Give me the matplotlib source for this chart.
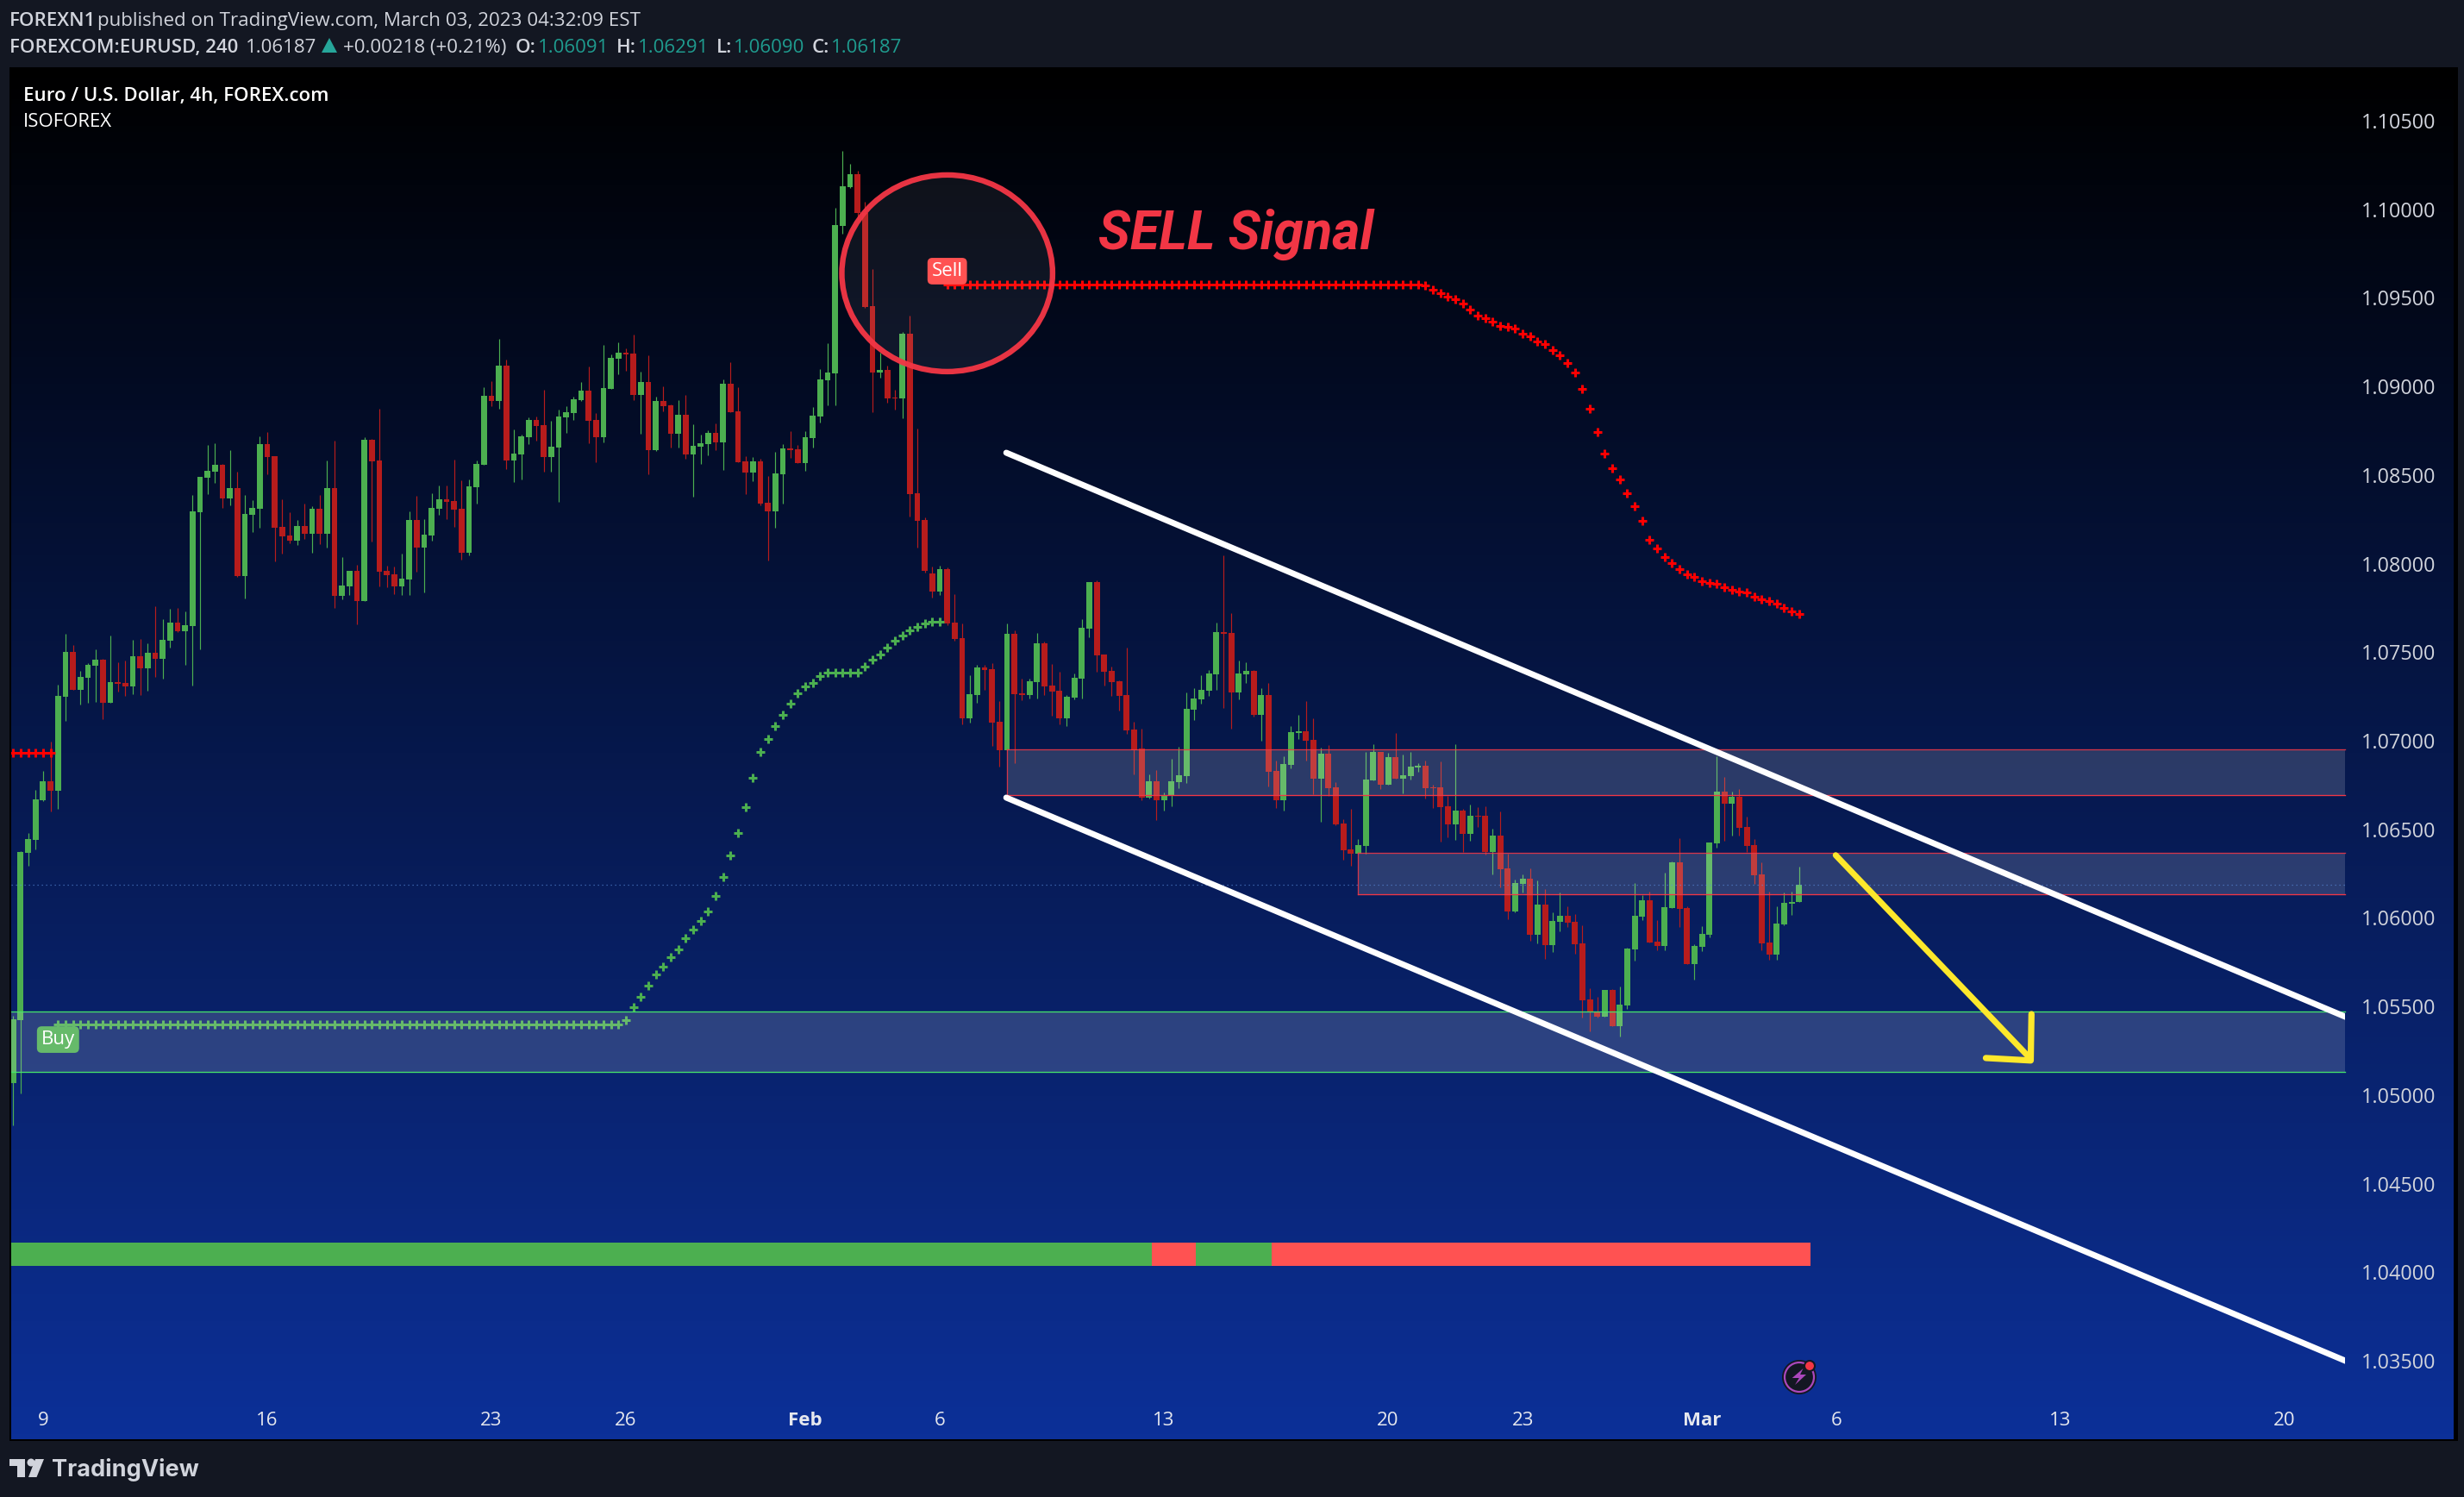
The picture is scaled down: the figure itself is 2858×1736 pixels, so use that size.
import numpy as np
import matplotlib
matplotlib.use("Agg")
import matplotlib.pyplot as plt
from matplotlib.colors import LinearSegmentedColormap
from matplotlib.patches import Rectangle, Ellipse, Circle, Polygon

# Candles, 4h bars
opens = [
    1.05067,1.05424,1.06367,1.0644,1.06664,1.06771,1.06718,1.07249,1.07502,1.07288,
    1.07356,1.07424,1.07458,1.07215,1.07332,1.07327,1.07307,1.07478,1.0741,1.07497,
    1.07463,1.07565,1.07667,1.07619,1.07648,1.08291,1.08485,1.08519,1.08558,1.08368,
    1.08427,1.0793,1.08276,1.0831,1.08675,1.08607,1.08208,1.08159,1.0813,1.08213,
    1.08169,1.0831,1.08169,1.08427,1.07818,1.07872,1.07959,1.07789,1.087,1.08583,
    1.07959,1.0794,1.07872,1.07911,1.08247,1.08091,1.08159,1.0831,1.08364,1.08354,
    1.0831,1.08062,1.08432,1.08558,1.08948,1.08919,1.09118,1.08582,1.08616,1.08714,
    1.08811,1.08782,1.08602,1.08655,1.08826,1.0885,1.08923,1.08977,1.08811,1.08714,
    1.08986,1.09157,1.09191,1.09186,1.08952,1.09025,1.08641,1.08918,1.08894,1.08733,
    1.0884,1.08616,1.0866,1.08675,1.08738,1.08685,1.09015,1.0886,1.08577,1.08514,
    1.08577,1.08344,1.08295,1.08504,1.0865,1.08645,1.08568,1.08709,1.08831,1.09035,
    1.09074,1.09907,1.10126,1.10199,1.0998,1.09454,1.09079,1.09094,1.08938,1.08933,
    1.09298,1.08397,1.08246,1.07944,1.07842,1.07969,1.07667,1.07579,1.07126,1.07258,
    1.07414,1.07404,1.07107,1.06946,1.07604,1.07268,1.07258,1.07331,1.0755,1.07311,
    1.07282,1.07126,1.07243,1.0735,1.07633,1.07896,1.07487,1.07394,1.07336,1.07258,
    1.07063,1.06956,1.06679,1.06771,1.06664,1.0669,1.06766,1.068,1.07175,1.07233,
    1.07282,1.07375,1.07613,1.07608,1.07272,1.07375,1.07394,1.07146,1.07258,1.0683,
    1.06664,1.06863,1.07043,1.07053,1.07005,1.06786,1.06927,1.06737,1.06532,1.06386,
    1.06362,1.06406,1.06776,1.06936,1.06751,1.06907,1.06786,1.068,1.06849,1.06859,
    1.06737,1.06737,1.0663,1.06528,1.06606,1.06475,1.06577,1.06577,1.06373,1.06465,
    1.0628,1.06037,1.06192,1.06222,1.05905,1.06075,1.05847,1.05978,1.06012,1.05978,
    1.05856,1.0554,1.0547,1.05443,1.05594,1.05389,1.05506,1.05822,1.06007,1.061,
    1.05866,1.05842,1.06056,1.06314,1.06056,1.05739,1.05837,1.05905,1.06421,1.06713,
    1.06645,1.06684,1.06514,1.06411,1.06246,1.05861,1.05793,1.05963,1.0608,1.06091,
]
highs = [
    1.05445,1.06375,1.06479,1.06723,1.0683,1.06995,1.07317,1.07604,1.07541,1.07395,
    1.07439,1.07516,1.07463,1.07594,1.07444,1.07453,1.0757,1.07575,1.07551,1.0776,
    1.07687,1.07745,1.0775,1.0773,1.08388,1.0849,1.0867,1.0868,1.08563,1.08641,
    1.08519,1.08388,1.08359,1.08719,1.08743,1.08607,1.08364,1.0829,1.08247,1.08339,
    1.08325,1.08388,1.08583,1.08695,1.08037,1.07959,1.07994,1.08714,1.08704,1.08875,
    1.07989,1.07984,1.08057,1.08296,1.08383,1.08252,1.08398,1.08442,1.08442,1.08588,
    1.08471,1.08476,1.08583,1.08996,1.0903,1.09269,1.09152,1.08758,1.08728,1.08826,
    1.08831,1.08981,1.08806,1.0887,1.0889,1.08943,1.09025,1.09113,1.0885,1.09235,
    1.09181,1.0925,1.09215,1.09293,1.09084,1.09176,1.08943,1.09001,1.08899,1.08923,
    1.08952,1.08787,1.08728,1.08753,1.08792,1.0904,1.09137,1.08996,1.08606,1.08602,
    1.08592,1.08495,1.08631,1.08675,1.08748,1.0867,1.08748,1.08884,1.09098,1.09244,
    1.10008,1.1033,1.10257,1.10218,1.10043,1.09663,1.0919,1.09118,1.08982,1.09307,
    1.094,1.08762,1.08262,1.07982,1.07988,1.07978,1.07827,1.07662,1.0737,1.07428,
    1.07428,1.07438,1.07224,1.07662,1.07623,1.0735,1.0735,1.07608,1.0756,1.07433,
    1.07389,1.07258,1.07379,1.07686,1.07896,1.07905,1.07487,1.07418,1.07341,1.07526,
    1.07107,1.07068,1.0681,1.06834,1.06708,1.06898,1.06966,1.07272,1.07297,1.0737,
    1.07399,1.07667,1.08047,1.0772,1.07452,1.07443,1.07399,1.07297,1.07326,1.06888,
    1.06912,1.07083,1.07146,1.07224,1.07126,1.06961,1.06976,1.06766,1.06557,1.06615,
    1.06445,1.06936,1.0698,1.06936,1.06932,1.07044,1.06922,1.06937,1.06873,1.06888,
    1.0675,1.06883,1.06689,1.06981,1.06616,1.0664,1.06626,1.06631,1.06504,1.06601,
    1.06363,1.06217,1.06246,1.0628,1.06212,1.06163,1.06032,1.06144,1.06066,1.06022,
    1.05959,1.05603,1.05555,1.05594,1.05599,1.05613,1.05832,1.06197,1.06129,1.06149,
    1.05988,1.06256,1.06319,1.06451,1.06066,1.05852,1.05954,1.06426,1.06913,1.06796,
    1.06713,1.06728,1.06572,1.06445,1.06314,1.06149,1.06066,1.06144,1.06149,1.06291,
]
lows = [
    1.04829,1.05011,1.06296,1.06387,1.06659,1.06603,1.06617,1.07112,1.07288,1.07205,
    1.07215,1.0722,1.07122,1.07215,1.07278,1.07254,1.07264,1.07259,1.07283,1.07361,
    1.07351,1.07526,1.07614,1.07429,1.07312,1.07516,1.08393,1.08456,1.08315,1.08329,
    1.07925,1.07804,1.08179,1.08203,1.08505,1.08013,1.08057,1.08115,1.08105,1.0814,
    1.08062,1.08111,1.08091,1.0775,1.07799,1.07823,1.07658,1.07789,1.08125,1.07872,
    1.07867,1.07828,1.07823,1.07823,1.07955,1.07838,1.0813,1.08276,1.08252,1.08208,
    1.08023,1.08047,1.08339,1.08558,1.0889,1.08874,1.08534,1.08461,1.08475,1.08675,
    1.08694,1.08519,1.08519,1.08349,1.08738,1.08811,1.08918,1.08679,1.08572,1.08685,
    1.08986,1.09069,1.09089,1.08923,1.08733,1.08504,1.08636,1.0886,1.08655,1.08655,
    1.08592,1.08378,1.08563,1.08611,1.08641,1.08529,1.08855,1.08572,1.08393,1.08465,
    1.08329,1.08017,1.08203,1.08339,1.08597,1.08568,1.08524,1.08655,1.08797,1.08894,
    1.08894,1.09863,1.10121,1.09941,1.09444,1.08855,1.0905,1.08909,1.0887,1.08821,
    1.08266,1.08092,1.0795,1.0781,1.07823,1.07652,1.07565,1.07092,1.07102,1.07214,
    1.07287,1.06971,1.06854,1.06946,1.06873,1.07229,1.07238,1.07238,1.07258,1.07141,
    1.07092,1.07083,1.07233,1.07238,1.07584,1.07389,1.07311,1.07253,1.0717,1.07039,
    1.06812,1.06664,1.06674,1.06552,1.06606,1.0663,1.06732,1.06761,1.07117,1.07209,
    1.07253,1.07287,1.07185,1.07068,1.07233,1.07326,1.07136,1.07,1.06742,1.0662,
    1.06606,1.06844,1.0701,1.06888,1.06698,1.06542,1.06688,1.06523,1.06328,1.06294,
    1.06362,1.06362,1.06776,1.06727,1.06751,1.06786,1.06703,1.06781,1.06825,1.06674,
    1.0662,1.0643,1.06455,1.06441,1.06372,1.06436,1.06514,1.06358,1.06246,1.06173,
    1.05993,1.06032,1.06144,1.05871,1.05856,1.05769,1.05808,1.05925,1.05949,1.05798,
    1.05438,1.0536,1.05438,1.05443,1.05389,1.05331,1.05487,1.05759,1.05988,1.05861,
    1.05817,1.05817,1.06056,1.05949,1.05739,1.05652,1.05813,1.0589,1.06397,1.06436,
    1.06465,1.06465,1.06372,1.06192,1.05817,1.05764,1.05764,1.05958,1.06017,1.0609,
]
closes = [
    1.05428,1.06372,1.06445,1.06669,1.06771,1.06718,1.07254,1.07502,1.07288,1.07361,
    1.07429,1.07458,1.07215,1.07332,1.07322,1.07307,1.07478,1.0741,1.07497,1.07463,
    1.0757,1.07667,1.07619,1.07653,1.08296,1.0849,1.08524,1.08558,1.08368,1.08427,
    1.0793,1.08281,1.08315,1.08675,1.08602,1.08203,1.08154,1.0813,1.08213,1.08169,
    1.0831,1.08169,1.08427,1.07818,1.07877,1.07959,1.07789,1.087,1.08578,1.07955,
    1.07935,1.07872,1.07916,1.08247,1.08091,1.08164,1.08315,1.08364,1.08349,1.08305,
    1.08062,1.08437,1.08563,1.08948,1.08919,1.09118,1.08582,1.08621,1.08719,1.08811,
    1.08777,1.08602,1.0866,1.08831,1.08855,1.08928,1.08977,1.08806,1.08714,1.08991,
    1.09162,1.09191,1.09181,1.08952,1.09025,1.08641,1.08918,1.08889,1.08733,1.0884,
    1.08616,1.08665,1.08679,1.08738,1.08685,1.09015,1.08855,1.08572,1.08514,1.08577,
    1.08339,1.08295,1.08509,1.0865,1.0864,1.08568,1.08714,1.08836,1.0904,1.09079,
    1.09911,1.1013,1.10199,1.0998,1.09449,1.09079,1.09094,1.08933,1.08933,1.09298,
    1.08393,1.08242,1.07959,1.07842,1.07969,1.07662,1.07574,1.07126,1.07263,1.07414,
    1.07399,1.07102,1.06946,1.07604,1.07263,1.07258,1.07336,1.0755,1.07307,1.07277,
    1.07126,1.07248,1.07355,1.07638,1.07896,1.07482,1.07389,1.07331,1.07253,1.07058,
    1.06946,1.06679,1.06771,1.06664,1.0669,1.06771,1.06805,1.0718,1.07238,1.07287,
    1.0738,1.07613,1.07604,1.07272,1.0738,1.07394,1.07146,1.07258,1.06825,1.06664,
    1.06868,1.07048,1.07053,1.07,1.06786,1.06927,1.06732,1.06528,1.06382,1.06362,
    1.06411,1.06781,1.06936,1.06751,1.06907,1.06786,1.06805,1.06854,1.06859,1.06732,
    1.06732,1.06625,1.06528,1.06606,1.06475,1.06577,1.06572,1.06373,1.06465,1.06275,
    1.06037,1.06197,1.06222,1.05905,1.06075,1.05847,1.05983,1.06012,1.05973,1.05852,
    1.05535,1.0547,1.05443,1.05594,1.05389,1.05511,1.05827,1.06012,1.061,1.05861,
    1.05842,1.06061,1.06314,1.06051,1.05739,1.05842,1.0591,1.06426,1.06713,1.06645,
    1.06684,1.06509,1.06407,1.06241,1.05856,1.05793,1.05968,1.06085,1.0609,1.06187,
]

# Indicator dots (bar index starts and values)
sell_old_bars = [0, 1, 2, 3, 4, 5]
sell_old_vals = [1.0693] * 6
buy_start = 6
buy_vals = [1.05397] * 76 + [
    1.05425,1.05494,1.05556,1.0562,1.05683,1.05727,1.05776,1.05824,1.05883,1.05932,
    1.05985,1.06034,1.06126,1.06233,1.06354,1.06481,1.06627,1.06793,1.06939,1.07011,
    1.07085,1.07148,1.07207,1.07269,1.07309,1.07328,1.07363,1.07387,1.07387,1.07387,
    1.07387,1.07387,1.0742,1.0746,1.07489,1.07527,1.07563,1.07596,1.07625,1.07645,
    1.0766,1.0767,1.0767,
]
sell_start = 125
sell_vals = [1.09574] * 64 + [
    1.09569,1.09548,1.09529,1.09509,1.09491,1.09469,1.09432,1.09402,1.09383,1.09365,
    1.09343,1.09336,1.09326,1.09299,1.09283,1.09256,1.09237,1.09207,1.09175,1.09132,
    1.09081,1.08984,1.08872,1.08745,1.08619,1.08537,1.08473,1.08396,1.08322,1.0824,
    1.08133,1.08084,1.08036,1.08002,1.0797,1.07942,1.07923,1.07901,1.07893,1.07885,
    1.07865,1.0785,1.07841,1.07838,1.07811,1.07797,1.07787,1.07774,1.07749,1.07729,
    1.07714,
]

# Zones: first bar, top, bottom
zones_red = [(133, 1.06949, 1.06691), (180, 1.06365, 1.06133)]
zone_green = (-0.3, 1.05472, 1.05131)
zone_end = 312.1

# Channel lines and arrow
channel_top = ([132.9, 312.6], [1.08626, 1.05433])
channel_bottom = ([132.9, 312.6], [1.06679, 1.03491])
arrow_shaft = ([243.9, 270.0], [1.06354, 1.05204])
arrow_head = ([264.0, 270.0, 270.1], [1.05209, 1.05195, 1.05457])

# Trend strip
strip_edges = [-0.3, 152.4, 158.3, 168.4, 240.5]
strip_colors = ["#4caf50", "#ff5252", "#4caf50", "#ff5252"]
strip_top = 1.04167
strip_bottom = 1.04035

price_ticks = [1.035, 1.04, 1.045, 1.05, 1.055, 1.06, 1.065, 1.07, 1.075, 1.08, 1.085, 1.09, 1.095, 1.10, 1.105]
date_pos = [4, 34, 64, 82, 106, 124, 154, 184, 202, 226, 244, 274, 304]
date_labels = ["9", "16", "23", "26", "Feb", "6", "13", "20", "23", "Mar", "6", "13", "20"]
last_price = 1.06187

W, H = 2858, 1736
PAGE = "#131722"
TXT = "#d1d4dc"
TEAL = "#1f9c8f"
FONT = "Open Sans"

plt.rcParams["font.family"] = [FONT, "DejaVu Sans"]

fig = plt.figure(figsize=(W / 100, H / 100), dpi=100, facecolor=PAGE)

# px helpers for the chart pane
L, R, T, B = 13, 2846, 78, 1669
ax = fig.add_axes([L / W, 1 - B / H, (R - L) / W, (B - T) / H])
ax.set_zorder(1)
xlim = (-0.265, 326.6)
ylim = (1.03057, 1.10802)

# Background gradient
grad = LinearSegmentedColormap.from_list("bg", ["#000000", "#0c3098"])
ax.imshow(np.linspace(0, 1, 512).reshape(-1, 1), cmap=grad, aspect="auto",
          extent=[xlim[0], xlim[1], ylim[0], ylim[1]], zorder=0)

# Candles
bars = np.arange(len(opens))
o = np.array(opens)
h = np.array(highs)
l = np.array(lows)
c = np.array(closes)
colors = np.where(c >= o, "#4caf50", "#b71c1c")
ax.vlines(bars, l, h, colors=colors, linewidth=0.85, zorder=2)
ax.bar(bars, np.maximum(np.abs(c - o), 0.00005), bottom=np.minimum(o, c), width=0.8,
       color=colors, linewidth=0, zorder=2.1)

# Dots
mark = dict(linestyle="none", marker="+", markersize=7.2, markeredgewidth=2.2, zorder=3)
ax.plot(sell_old_bars, sell_old_vals, color="#ff0000", **mark)
ax.plot(np.arange(buy_start, buy_start + len(buy_vals)), buy_vals, color="#4caf50", **mark)
ax.plot(np.arange(sell_start, sell_start + len(sell_vals)), sell_vals, color="#ff0000", **mark)

# Buy / Sell labels
ax.text(6, 1.05313, "Buy", color="white", fontsize=16, ha="center", va="center", zorder=3.2,
        bbox=dict(boxstyle="round,pad=0.22,rounding_size=0.25", fc="#4caf50", ec="none"))
ax.text(125, 1.09651, "Sell", color="white", fontsize=16, ha="center", va="center", zorder=7,
        bbox=dict(boxstyle="round,pad=0.22,rounding_size=0.25", fc="#ff5252", ec="none"))

# Zones sit above candles and wash them out a bit, right side runs off the pane
for start, top, bot in zones_red:
    ax.add_patch(Rectangle((start, bot), zone_end - start, top - bot, fc=(1, 1, 1, 0.15), ec="none", zorder=4))
    ax.plot([start, zone_end], [top, top], color="#f23645", lw=0.95, alpha=0.85, zorder=4.1)
    ax.plot([start, zone_end], [bot, bot], color="#f23645", lw=0.95, zorder=4.1)
    ax.plot([start, start], [bot, top], color="#f23645", lw=0.95, alpha=0.85, zorder=4.1)
start, top, bot = zone_green
ax.add_patch(Rectangle((start, bot), zone_end - start, top - bot, fc=(1, 1, 1, 0.15), ec="none", zorder=4))
ax.plot([start, zone_end], [top, top], color="#45e36b", lw=0.95, zorder=4.1)
ax.plot([start, zone_end], [bot, bot], color="#45e36b", lw=0.95, zorder=4.1)

# Last price line
ax.plot([xlim[0], zone_end], [last_price, last_price], color="#5b8fe0", lw=0.9,
        linestyle=(0, (1, 3)), alpha=0.75, zorder=4.5)

# Channel, cut flat where the pane stops
for xs, ys in (channel_top, channel_bottom):
    ln, = ax.plot(xs, ys, color="white", lw=5.0, solid_capstyle="round", zorder=5)
    ln.set_clip_path(Rectangle((xlim[0], ylim[0]), zone_end - xlim[0], ylim[1] - ylim[0],
                               transform=ax.transData))

# Arrow
ax.plot(*arrow_shaft, color="#fde82b", lw=5.0, solid_capstyle="round", zorder=6)
ax.plot(*arrow_head, color="#fde82b", lw=5.2, solid_capstyle="round", solid_joinstyle="round", zorder=6)

# Sell circle
ax.add_patch(Ellipse((125, 1.09639), 28.2, 0.0111, fc=(1, 1, 1, 0.06),
                     ec=(0.95, 0.21, 0.27, 0.96), lw=4.6, zorder=6))

ax.text((1274 - 15.3) / 8.666, 1.035 + (1578 - 289) * 4.868e-5, "SELL Signal", color="#f23645", fontsize=44.5,
        fontfamily="Roboto", fontweight="bold", fontstyle="italic", ha="left", va="baseline", zorder=6)

# Strip
for a, b, col in zip(strip_edges[:-1], strip_edges[1:], strip_colors):
    ax.add_patch(Rectangle((a, strip_bottom), b - a, strip_top - strip_bottom, fc=col, ec="none", zorder=3))

ax.set_xlim(*xlim)
ax.set_ylim(*ylim)
ax.yaxis.tick_right()
ax.set_yticks(price_ticks)
ax.set_yticklabels([f"{p:.5f}" for p in price_ticks], color=TXT, fontsize=16.8)
ax.tick_params(axis="y", length=0, pad=-76.8)
ax.set_xticks(date_pos)
ax.set_xticklabels(date_labels, color="#e6e8ee", fontsize=16)
ax.tick_params(axis="x", length=0, pad=-23)
for lab in ax.get_xticklabels():
    if lab.get_text() in ("Feb", "Mar"):
        lab.set_fontweight("bold")
for lab in ax.get_xticklabels() + ax.get_yticklabels():
    lab.set_zorder(10)
for sp in ax.spines.values():
    sp.set_visible(False)

# Overlay in page pixels: headers, logo, icon
over = fig.add_axes([0, 0, 1, 1])
over.set_zorder(2)
over.patch.set_visible(False)
over.set_xlim(0, W)
over.set_ylim(H, 0)
over.axis("off")

# Black pane frame behind the chart
fig.add_artist(Rectangle((11, 78), 2840, 1593, fc="black", ec="none", zorder=0.5, transform=over.transData))

def head(x, y, s, color=TXT, weight="normal", size=16):
    over.text(x, y, s, color=color, fontsize=size, fontweight=weight, ha="left", va="baseline")

head(11, 30, "FOREXN1", weight="semibold")
head(113, 30, "published on TradingView.com, March 03, 2023 04:32:09 EST", size=16.1)
head(11, 61, "FOREXCOM:EURUSD, 240", weight="semibold")
head(285, 61, "1.06187")
over.add_patch(Polygon([(373, 61), (382, 44), (391, 61)], fc="#26a69a", ec="none"))
head(398, 61, "+0.00218 (+0.21%)")
head(598, 61, "O:", weight="semibold")
head(624, 61, "1.06091", color=TEAL)
head(715, 61, "H:", weight="semibold")
head(740, 61, "1.06291", color=TEAL)
head(831, 61, "L:", weight="semibold")
head(851, 61, "1.06090", color=TEAL)
head(942, 61, "C:", weight="semibold")
head(964, 61, "1.06187", color=TEAL)

head(27, 117, "Euro / U.S. Dollar, 4h, FOREX.com", color="white", weight="semibold")
head(27, 147, "ISOFOREX", color="white")

# Logo
logo = "#d1d4dc"
over.add_patch(Polygon([(11, 1692), (29, 1692), (29, 1713), (20, 1713), (20, 1700), (11, 1700)], fc=logo, ec="none"))
over.add_patch(Circle((36, 1696), 4.5, fc=logo, ec="none"))
over.add_patch(Polygon([(41, 1692), (51, 1692), (42.5, 1713), (33, 1713)], fc=logo, ec="none"))
over.text(60, 1712.5, "TradingView", color=logo, fontsize=19.5, fontfamily="Inter", fontweight="bold",
          ha="left", va="baseline")

# Flash icon
over.add_patch(Circle((2087, 1597), 20, fc=PAGE, ec="none"))
over.add_patch(Circle((2087, 1597), 17, fc="none", ec="#ab47bc", lw=1.6))
over.add_patch(Polygon([(2091.5, 1587), (2078.7, 1598), (2086.8, 1598), (2082, 1606), (2095, 1594), (2088, 1594)],
                       fc="#ab47bc", ec="none"))
over.add_patch(Circle((2099, 1584), 6, fc="#f23645", ec=PAGE, lw=1.5))

fig.savefig("out.png", dpi=100, facecolor=PAGE)
